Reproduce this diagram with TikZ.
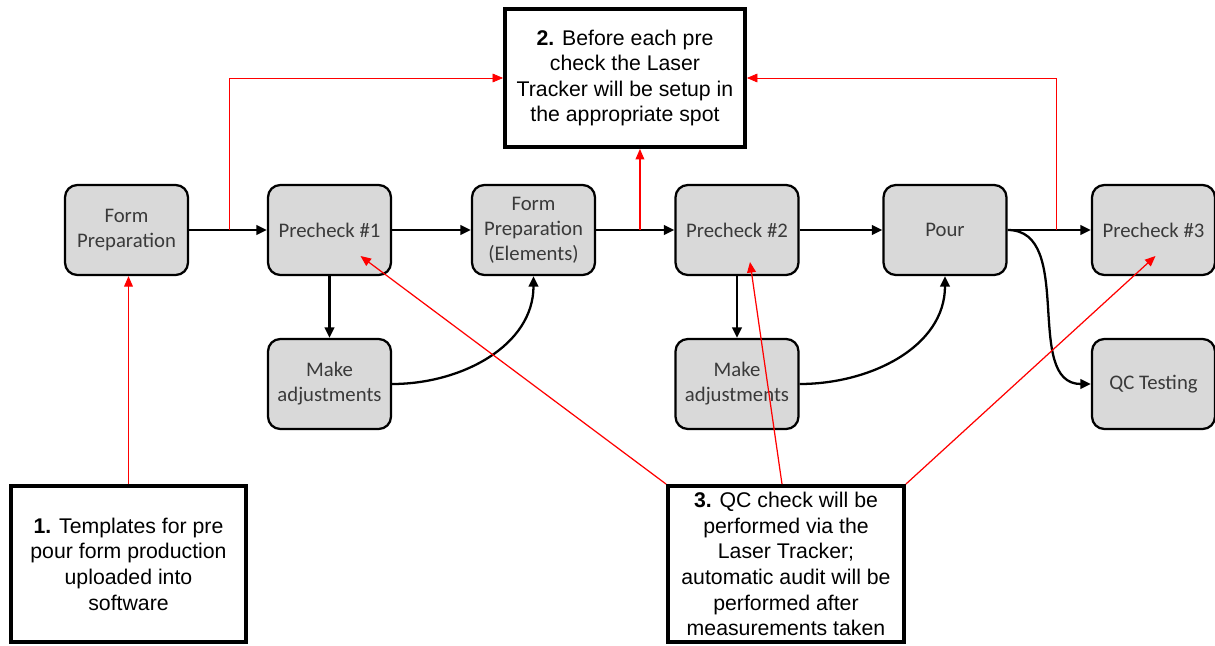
\documentclass[tikz,border=0pt]{standalone}
\usepackage{fontspec}
\setmainfont{Liberation Sans}
\newfontfamily\stepfont{Carlito}
\usetikzlibrary{arrows.meta, positioning, calc}
\definecolor{BoxGray}{HTML}{D9D9D9}
\definecolor{StepText}{HTML}{3A3A3A}
\definecolor{NoteRed}{HTML}{FF0000}
\tikzset{
  stepbox/.style={draw=black, line width=1.3pt, rounded corners=7pt, fill=BoxGray,
    minimum width=2.46cm, minimum height=1.8cm, align=center, text=StepText,
    font=\stepfont\fontsize{11.8}{14.2}\selectfont},
  notebox/.style={draw=black, line width=2.2pt, fill=white, align=center,
    font=\fontsize{12.1}{14.6}\selectfont},
  flow/.style={-{Triangle[length=6pt,width=5.5pt]}, line width=1.3pt},
  redline/.style={-{Triangle[length=6pt,width=5pt]}, draw=NoteRed, line width=0.7pt},
  thinred/.style={redline, line width=0.4pt}
}

\begin{document}
\begin{tikzpicture}[x=0.02cm, y=-0.02cm]
  \useasboundingbox (0,0) rectangle (1215,646);

  % process steps
  \node[stepbox] (fp)   at (126.5,230) {Form\\Preparation};
  \node[stepbox] (p1)   at (329.5,230) {Precheck \#1};
  \node[stepbox] (fpe)  at (533.5,230) {Form\\Preparation\\(Elements)};
  \node[stepbox] (p2)   at (737,230)   {Precheck \#2};
  \node[stepbox] (pour) at (945,230)   {Pour};
  \node[stepbox] (p3)   at (1153.5,230) {Precheck \#3};
  \node[stepbox] (ma1)  at (329.5,384) {Make\\adjustments};
  \node[stepbox] (ma2)  at (737,384)   {Make\\adjustments};
  \node[stepbox] (qc)   at (1153.5,384) {QC Testing};

  % notes
  \node[notebox, minimum width=4.8cm, minimum height=2.76cm] (n2) at (625,78)
    {\textbf{2.} Before each pre\\check the Laser\\Tracker will be setup in\\the appropriate spot};
  \node[notebox, minimum width=4.7cm, minimum height=3.12cm] (n1) at (128.5,564)
    {\textbf{1.} Templates for pre\\pour form production\\uploaded into\\software};
  \node[notebox, minimum width=4.72cm, minimum height=3.12cm] (n3) at (786,564)
    {\textbf{3.} QC check will be\\performed via the\\Laser Tracker;\\automatic audit will be\\performed after\\measurements taken};

  % main flow
  \draw[flow] (fp) -- (p1);
  \draw[flow] (p1) -- (fpe);
  \draw[flow] (fpe) -- (p2);
  \draw[flow] (p2) -- (pour);
  \draw[flow] (pour) -- (p3);
  \draw[flow] (p1) -- (ma1);
  \draw[flow] (p2) -- (ma2);
  \draw[flow] (ma1.east) to[out=0, in=-90] (fpe.south);
  \draw[flow] (ma2.east) to[out=0, in=-90] (pour.south);
  \draw[flow] (pour.east) to[out=0, in=180] (qc.west);

  % red notes
  \coordinate (t1) at ($(fp.east)!0.52!(p1.west)$);
  \coordinate (t2) at ($(fpe.east)!0.56!(p2.west)$);
  \coordinate (t3) at ($(pour.east)!0.59!(p3.west)$);
  \draw[redline] (n1.north) -- (n1.north |- fp.south);
  \draw[thinred] (t1) |- (n2.west);
  \draw[redline] (t2) -- (t2 |- n2.south);
  \draw[thinred] (t3) |- (n2.east);
  \draw[redline] (n3.north west) -- ($(p1.center)+(31,26)$);
  \draw[redline] ($(n3.north)+(-4,0)$) -- ($(p2.center)+(13,32)$);
  \draw[redline] (n3.north east) -- ($(p3.center)+(2,26)$);
\end{tikzpicture}
\end{document}
